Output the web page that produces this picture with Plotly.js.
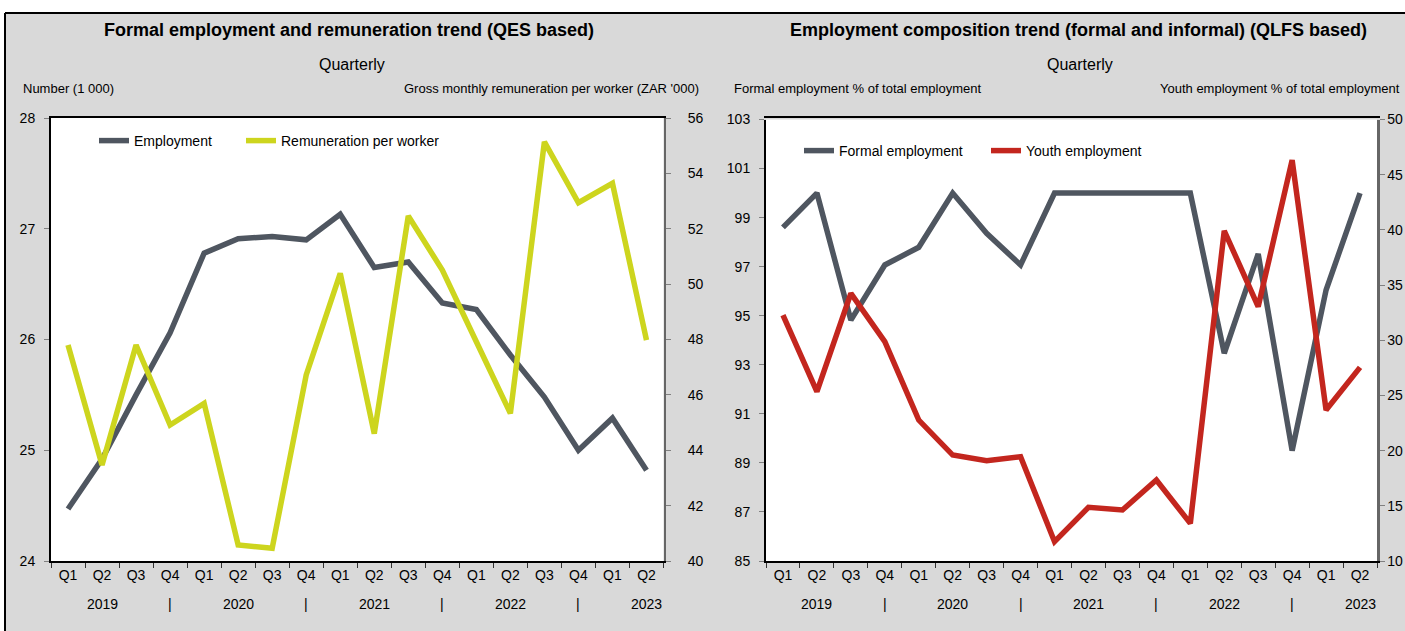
<!DOCTYPE html>
<html>
<head>
<meta charset="utf-8">
<script src="https://cdn.plot.ly/plotly-3.0.1.min.js"></script>
<style>
html,body{margin:0;padding:0;background:#d9d9d9;}
#chart{width:1405px;height:631px;}
</style>
</head>
<body>
<div id="chart"></div>
<script>
// ---- data ----
var quarters = ['2019Q1','2019Q2','2019Q3','2019Q4','2020Q1','2020Q2','2020Q3','2020Q4',
                '2021Q1','2021Q2','2021Q3','2021Q4','2022Q1','2022Q2','2022Q3','2022Q4',
                '2023Q1','2023Q2'];
var quarterLabels = ['Q1','Q2','Q3','Q4','Q1','Q2','Q3','Q4','Q1','Q2','Q3','Q4','Q1','Q2','Q3','Q4','Q1','Q2'];
var yearLabels = ['','2019','','|','','2020','','|','','2021','','|','','2022','','|','','2023'];

var employment = [24.47,24.92,25.50,26.06,26.78,26.91,26.93,26.90,27.13,26.65,26.70,26.33,26.27,25.86,25.48,25.00,25.29,24.82];
var remuneration = [47.80,43.47,47.80,44.91,45.69,40.58,40.46,46.72,50.39,44.60,52.46,50.51,47.92,45.33,55.14,52.94,53.64,47.98];

var formalShare = [98.60,100.0,94.82,97.07,97.79,100.0,98.36,97.07,100.0,100.0,100.0,100.0,100.0,93.47,97.52,89.50,96.05,100.0];
var youthShare = [32.28,25.34,34.25,29.87,22.77,19.60,19.09,19.45,11.75,14.86,14.62,17.34,13.41,39.92,33.04,46.32,23.68,27.54];

// ---- style ----
var FONT = 'Liberation Sans Narrow, Arial Narrow, Liberation Sans, Arial, sans-serif';
var GRAY = '#4f5660', LIME = '#cdd51e', RED = '#c3261e';
var W = 1405, H = 631;
function px(x){return x/W;}
function py(y){return (H-y)/H;}

var traces = [
  {x: quarters, y: employment, name: 'Employment', type: 'scatter', mode: 'lines',
   line: {color: GRAY, width: 5.5}, xaxis: 'x', yaxis: 'y', legend: 'legend'},
  {x: quarters, y: remuneration, name: 'Remuneration per worker', type: 'scatter', mode: 'lines',
   line: {color: LIME, width: 5.5}, xaxis: 'x', yaxis: 'y2', legend: 'legend2'},
  {x: quarters, y: formalShare, name: 'Formal employment', type: 'scatter', mode: 'lines',
   line: {color: GRAY, width: 5.5}, xaxis: 'x2', yaxis: 'y3', legend: 'legend3'},
  {x: quarters, y: youthShare, name: 'Youth employment', type: 'scatter', mode: 'lines',
   line: {color: RED, width: 5.5}, xaxis: 'x2', yaxis: 'y4', legend: 'legend4'}
];

function xAxis(domain){
  return {domain: domain, type: 'category', range: [-0.5, quarters.length - 0.5], autorange: false,
    tickmode: 'array', tickvals: quarters, ticktext: quarterLabels,
    tickson: 'boundaries', ticks: 'outside', ticklen: 5, tickcolor: '#333', tickwidth: 1,
    showline: true, linecolor: '#000', linewidth: 2, mirror: true, showgrid: false, zeroline: false,
    tickfont: {family: FONT, size: 14, color: '#000'}, fixedrange: true};
}
function yAxis(opts){
  var a = {showgrid: false, zeroline: false, showline: true, linewidth: 2, ticks: 'outside', ticklen: 5,
    tickcolor: '#808080', tickwidth: 1, tickfont: {family: FONT, size: 14, color: '#000'},
    ticklabelstandoff: 6, fixedrange: true};
  for (var k in opts) a[k] = opts[k];
  return a;
}
function legendAt(x, y){
  return {orientation: 'h', x: px(x), xanchor: 'left', y: py(y), yanchor: 'middle',
    bgcolor: 'rgba(0,0,0,0)', font: {family: FONT, size: 14, color: '#000'}};
}

var yDom1 = [py(561), py(118)];
var yDom2 = [py(561), py(119.5)];

var annotations = [];
function txt(text, x, y, xanchor, size, bold){
  annotations.push({text: bold ? '<b>'+text+'</b>' : text, x: px(x), y: py(y), xref: 'paper', yref: 'paper',
    xanchor: xanchor, yanchor: 'middle', showarrow: false,
    font: {family: FONT, size: size, color: '#000'}});
}
txt('Formal employment and remuneration trend (QES based)', 349, 30, 'center', 18, true);
txt('Quarterly', 352, 64, 'center', 16, false);
txt('Number (1 000)', 21, 89, 'left', 13, false);
txt("Gross monthly remuneration per worker (ZAR '000)", 701, 89, 'right', 13, false);
txt('Employment composition trend (formal and informal) (QLFS based)', 1078, 30, 'center', 18, true);
txt('Quarterly', 1080, 64, 'center', 16, false);
txt('Formal employment % of total employment', 732, 89, 'left', 13, false);
txt('Youth employment % of total employment', 1402, 89, 'right', 13, false);

// year row under the quarter labels
['x','x2'].forEach(function(ax){
  for (var i = 0; i < quarters.length; i++){
    if (!yearLabels[i]) continue;
    annotations.push({text: yearLabels[i], x: quarters[i], xref: ax, y: py(604), yref: 'paper',
      xanchor: 'center', yanchor: 'middle', showarrow: false,
      font: {family: FONT, size: 14, color: '#000000'}});
  }
});

var layout = {
  width: W, height: H,
  margin: {l: 0, r: 0, t: 0, b: 0, pad: 0},
  paper_bgcolor: '#d9d9d9', plot_bgcolor: '#ffffff',
  showlegend: true,
  xaxis: xAxis([px(51), px(663.5)]),
  xaxis2: xAxis([px(766), px(1377)]),
  yaxis: yAxis({domain: yDom1, anchor: 'x', range: [24, 28], dtick: 1, tick0: 24, linecolor: '#000'}),
  yaxis2: yAxis({overlaying: 'y', side: 'right', anchor: 'x', range: [40, 56], dtick: 2, tick0: 40,
    linecolor: '#666', linewidth: 2.5, ticklabelstandoff: 14}),
  yaxis3: yAxis({domain: yDom2, anchor: 'x2', range: [85, 103], dtick: 2, tick0: 85, linecolor: '#000'}),
  yaxis4: yAxis({overlaying: 'y3', side: 'right', anchor: 'x2', range: [10, 50], dtick: 5, tick0: 10,
    linecolor: '#666', linewidth: 2.5, ticklabelstandoff: 0}),
  legend: legendAt(94, 141),
  legend2: legendAt(241, 141),
  legend3: legendAt(799, 151),
  legend4: legendAt(986, 151),
  annotations: annotations,
  shapes: [
    {type: 'rect', xref: 'paper', yref: 'paper', x0: 0, x1: 1, y0: py(13), y1: 1, fillcolor: '#fff', line: {width: 0}, layer: 'below'},
    {type: 'rect', xref: 'paper', yref: 'paper', x0: 0, x1: px(5), y0: 0, y1: 1, fillcolor: '#fff', line: {width: 0}, layer: 'below'},
    {type: 'line', xref: 'paper', yref: 'paper', x0: px(5), x1: 1, y0: py(13), y1: py(13), line: {color: '#000', width: 2}},
    {type: 'line', xref: 'paper', yref: 'paper', x0: px(5), x1: px(5), y0: 0, y1: py(13), line: {color: '#000', width: 2}}
  ]
};

Plotly.newPlot('chart', traces, layout, {displayModeBar: false, staticPlot: true});
</script>
</body>
</html>
